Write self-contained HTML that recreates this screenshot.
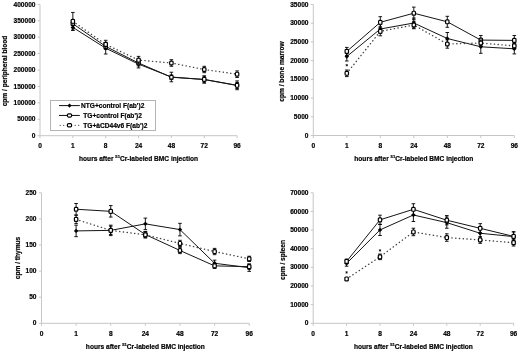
<!DOCTYPE html>
<html><head><meta charset="utf-8"><style>
html,body{margin:0;padding:0;background:#fff;}
svg{display:block;filter:blur(0.3px);}
text{font-family:"Liberation Sans", sans-serif;font-weight:bold;font-size:6.6px;fill:#000;stroke:#000;stroke-width:0.18px;}
</style></head><body>
<svg width="520" height="352" viewBox="0 0 520 352">
<rect width="520" height="352" fill="#fff"/>
<path d="M40 4.4V135.7H237.1" fill="none" stroke="#c6c6c6" stroke-width="1"/>
<path d="M37.5 135.7H40M37.5 119.29H40M37.5 102.88H40M37.5 86.46H40M37.5 70.05H40M37.5 53.64H40M37.5 37.23H40M37.5 20.81H40M37.5 4.4H40M40 135.7V138.2M72.85 135.7V138.2M105.7 135.7V138.2M138.55 135.7V138.2M171.4 135.7V138.2M204.25 135.7V138.2M237.1 135.7V138.2" fill="none" stroke="#c6c6c6" stroke-width="1"/>
<text x="35.5" y="137.8" text-anchor="end">0</text>
<text x="35.5" y="121.39" text-anchor="end">50000</text>
<text x="35.5" y="104.97" text-anchor="end">100000</text>
<text x="35.5" y="88.56" text-anchor="end">150000</text>
<text x="35.5" y="72.15" text-anchor="end">200000</text>
<text x="35.5" y="55.74" text-anchor="end">250000</text>
<text x="35.5" y="39.33" text-anchor="end">300000</text>
<text x="35.5" y="22.91" text-anchor="end">350000</text>
<text x="35.5" y="6.5" text-anchor="end">400000</text>
<text x="40" y="147.5" text-anchor="middle">0</text>
<text x="72.85" y="147.5" text-anchor="middle">1</text>
<text x="105.7" y="147.5" text-anchor="middle">8</text>
<text x="138.55" y="147.5" text-anchor="middle">24</text>
<text x="171.4" y="147.5" text-anchor="middle">48</text>
<text x="204.25" y="147.5" text-anchor="middle">72</text>
<text x="237.1" y="147.5" text-anchor="middle">96</text>
<text x="138.55" y="160.5" text-anchor="middle">hours after <tspan font-size="4.2" dy="-2.6">51</tspan><tspan dy="2.6">Cr-labeled BMC injection</tspan></text>
<text transform="translate(6.9 71) rotate(-90)" text-anchor="middle">cpm / peripheral blood</text>
<path d="M72.85 24.42V30.33M71.05 24.42H74.65M71.05 30.33H74.65M105.7 42.38V54M103.9 42.38H107.5M103.9 54H107.5M138.55 60.33V67.95M136.75 60.33H140.35M136.75 67.95H140.35M171.4 72.22V81.8M169.6 72.22H173.2M169.6 81.8H173.2M204.25 76.09V83.05M202.45 76.09H206.05M202.45 83.05H206.05M237.1 82.49V88.46M235.3 82.49H238.9M235.3 88.46H238.9" fill="none" stroke="#000" stroke-width="0.9"/>
<polyline points="72.85,27.38 105.7,48.19 138.55,64.14 171.4,77.01 204.25,79.57 237.1,85.48" fill="none" stroke="#151515" stroke-width="1.0"/>
<path d="M72.85 25.18L75.05 27.38L72.85 29.58L70.65 27.38Z" fill="#000"/>
<path d="M105.7 45.99L107.9 48.19L105.7 50.39L103.5 48.19Z" fill="#000"/>
<path d="M138.55 61.94L140.75 64.14L138.55 66.34L136.35 64.14Z" fill="#000"/>
<path d="M171.4 74.81L173.6 77.01L171.4 79.21L169.2 77.01Z" fill="#000"/>
<path d="M204.25 77.37L206.45 79.57L204.25 81.77L202.05 79.57Z" fill="#000"/>
<path d="M237.1 83.28L239.3 85.48L237.1 87.68L234.9 85.48Z" fill="#000"/>
<path d="M72.85 19.83V27.71M71.05 19.83H74.65M71.05 27.71H74.65M105.7 43.46V49.37M103.9 43.46H107.5M103.9 49.37H107.5M138.55 60.01V65.98M136.75 60.01H140.35M136.75 65.98H140.35M171.4 74.97V79.57M169.6 74.97H173.2M169.6 79.57H173.2M204.25 75.93V82.88M202.45 75.93H206.05M202.45 82.88H206.05M237.1 80.92V89.71M235.3 80.92H238.9M235.3 89.71H238.9" fill="none" stroke="#000" stroke-width="0.9"/>
<polyline points="72.85,23.77 105.7,46.42 138.55,62.99 171.4,77.27 204.25,79.41 237.1,85.31" fill="none" stroke="#151515" stroke-width="1.0"/>
<rect x="71.15" y="21.82" width="3.4" height="3.9" rx="0.9" fill="#fff" stroke="#000" stroke-width="1.2"/>
<rect x="104" y="44.47" width="3.4" height="3.9" rx="0.9" fill="#fff" stroke="#000" stroke-width="1.2"/>
<rect x="136.85" y="61.04" width="3.4" height="3.9" rx="0.9" fill="#fff" stroke="#000" stroke-width="1.2"/>
<rect x="169.7" y="75.32" width="3.4" height="3.9" rx="0.9" fill="#fff" stroke="#000" stroke-width="1.2"/>
<rect x="202.55" y="77.46" width="3.4" height="3.9" rx="0.9" fill="#fff" stroke="#000" stroke-width="1.2"/>
<rect x="235.4" y="83.36" width="3.4" height="3.9" rx="0.9" fill="#fff" stroke="#000" stroke-width="1.2"/>
<path d="M72.85 12.44V30.17M71.05 12.44H74.65M71.05 30.17H74.65M105.7 40.31V48.52M103.9 40.31H107.5M103.9 48.52H107.5M138.55 56.39V63.81M136.75 56.39H140.35M136.75 63.81H140.35M171.4 59.71V66.28M169.6 59.71H173.2M169.6 66.28H173.2M204.25 66.31V72.68M202.45 66.31H206.05M202.45 72.68H206.05M237.1 70.9V77.47M235.3 70.9H238.9M235.3 77.47H238.9" fill="none" stroke="#000" stroke-width="0.9"/>
<polyline points="72.85,21.3 105.7,44.41 138.55,60.1 171.4,62.99 204.25,69.49 237.1,74.19" fill="none" stroke="#444" stroke-width="1.35" stroke-linecap="round" stroke-dasharray="0.3 3.47"/>
<rect x="71.15" y="19.35" width="3.4" height="3.9" rx="0.9" fill="#fff" stroke="#000" stroke-width="1.2"/>
<rect x="104" y="42.46" width="3.4" height="3.9" rx="0.9" fill="#fff" stroke="#000" stroke-width="1.2"/>
<rect x="136.85" y="58.15" width="3.4" height="3.9" rx="0.9" fill="#fff" stroke="#000" stroke-width="1.2"/>
<rect x="169.7" y="61.04" width="3.4" height="3.9" rx="0.9" fill="#fff" stroke="#000" stroke-width="1.2"/>
<rect x="202.55" y="67.54" width="3.4" height="3.9" rx="0.9" fill="#fff" stroke="#000" stroke-width="1.2"/>
<rect x="235.4" y="72.24" width="3.4" height="3.9" rx="0.9" fill="#fff" stroke="#000" stroke-width="1.2"/>
<rect x="50.5" y="100.5" width="105" height="30" fill="#fff" stroke="#b4b4b4" stroke-width="1"/>
<path d="M59 105.6H79.8" stroke="#000" stroke-width="0.95"/>
<path d="M69.5 103.50L71.6 105.6L69.5 107.70L67.4 105.6Z" fill="#000"/>
<text x="81" y="108.00">NTG+control F(ab')2</text>
<path d="M59 115.45H79.8" stroke="#000" stroke-width="0.95"/>
<rect x="67.40" y="113.85" width="4.2" height="3.2" rx="1.2" fill="#fff" stroke="#000" stroke-width="1.2"/>
<text x="83.3" y="117.85">TG+control F(ab')2</text>
<path d="M60.2 125.3h0.01M63.7 125.3h0.01M75.2 125.3h0.01M78.7 125.3h0.01" stroke="#444" stroke-width="1.35" stroke-linecap="round"/>
<rect x="67.40" y="123.70" width="4.2" height="3.2" rx="1.2" fill="#fff" stroke="#000" stroke-width="1.2"/>
<text x="83.3" y="127.70">TG+àCD44v6 F(ab')2</text>
<path d="M313.3 4.5V135.5H514.3" fill="none" stroke="#c6c6c6" stroke-width="1"/>
<path d="M310.8 135.5H313.3M310.8 116.79H313.3M310.8 98.07H313.3M310.8 79.36H313.3M310.8 60.64H313.3M310.8 41.93H313.3M310.8 23.21H313.3M310.8 4.5H313.3M313.3 135.5V138M346.8 135.5V138M380.3 135.5V138M413.8 135.5V138M447.3 135.5V138M480.8 135.5V138M514.3 135.5V138" fill="none" stroke="#c6c6c6" stroke-width="1"/>
<text x="308.5" y="137.6" text-anchor="end">0</text>
<text x="308.5" y="118.89" text-anchor="end">5000</text>
<text x="308.5" y="100.17" text-anchor="end">10000</text>
<text x="308.5" y="81.46" text-anchor="end">15000</text>
<text x="308.5" y="62.74" text-anchor="end">20000</text>
<text x="308.5" y="44.03" text-anchor="end">25000</text>
<text x="308.5" y="25.31" text-anchor="end">30000</text>
<text x="308.5" y="6.6" text-anchor="end">35000</text>
<text x="313.3" y="147.5" text-anchor="middle">0</text>
<text x="346.8" y="147.5" text-anchor="middle">1</text>
<text x="380.3" y="147.5" text-anchor="middle">8</text>
<text x="413.8" y="147.5" text-anchor="middle">24</text>
<text x="447.3" y="147.5" text-anchor="middle">48</text>
<text x="480.8" y="147.5" text-anchor="middle">72</text>
<text x="514.3" y="147.5" text-anchor="middle">96</text>
<text x="413.8" y="160.5" text-anchor="middle">hours after <tspan font-size="4.2" dy="-2.6">51</tspan><tspan dy="2.6">Cr-labeled BMC injection</tspan></text>
<text transform="translate(284.4 71.5) rotate(-90)" text-anchor="middle">cpm / bone marrow</text>
<path d="M346.8 52.01V60.99M345 52.01H348.6M345 60.99H348.6M380.3 24.51V33.49M378.5 24.51H382.1M378.5 33.49H382.1M413.8 17.99V28.02M412 17.99H415.6M412 28.02H415.6M447.3 32.51V44.49M445.5 32.51H449.1M445.5 44.49H449.1M480.8 40.28V53.31M479 40.28H482.6M479 53.31H482.6M514.3 43.73V53.91M512.5 43.73H516.1M512.5 53.91H516.1" fill="none" stroke="#000" stroke-width="0.9"/>
<polyline points="346.8,56.5 380.3,29 413.8,23 447.3,38.5 480.8,46.79 514.3,48.82" fill="none" stroke="#151515" stroke-width="1.0"/>
<path d="M346.8 54.3L349 56.5L346.8 58.7L344.6 56.5Z" fill="#000"/>
<path d="M380.3 26.8L382.5 29L380.3 31.2L378.1 29Z" fill="#000"/>
<path d="M413.8 20.8L416 23L413.8 25.2L411.6 23Z" fill="#000"/>
<path d="M447.3 36.3L449.5 38.5L447.3 40.7L445.1 38.5Z" fill="#000"/>
<path d="M480.8 44.59L483 46.79L480.8 48.99L478.6 46.79Z" fill="#000"/>
<path d="M514.3 46.62L516.5 48.82L514.3 51.02L512.1 48.82Z" fill="#000"/>
<path d="M346.8 47.41V55.42M345 47.41H348.6M345 55.42H348.6M380.3 16.68V27.91M378.5 16.68H382.1M378.5 27.91H382.1M413.8 7.11V19.31M412 7.11H415.6M412 19.31H415.6M447.3 16.3V27.3M445.5 16.3H449.1M445.5 27.3H449.1M480.8 35.49V44.7M479 35.49H482.6M479 44.7H482.6M514.3 35.49V45.3M512.5 35.49H516.1M512.5 45.3H516.1" fill="none" stroke="#000" stroke-width="0.9"/>
<polyline points="346.8,51.41 380.3,22.3 413.8,13.21 447.3,21.8 480.8,40.09 514.3,40.39" fill="none" stroke="#151515" stroke-width="1.0"/>
<rect x="345.1" y="49.46" width="3.4" height="3.9" rx="0.9" fill="#fff" stroke="#000" stroke-width="1.2"/>
<rect x="378.6" y="20.35" width="3.4" height="3.9" rx="0.9" fill="#fff" stroke="#000" stroke-width="1.2"/>
<rect x="412.1" y="11.26" width="3.4" height="3.9" rx="0.9" fill="#fff" stroke="#000" stroke-width="1.2"/>
<rect x="445.6" y="19.85" width="3.4" height="3.9" rx="0.9" fill="#fff" stroke="#000" stroke-width="1.2"/>
<rect x="479.1" y="38.14" width="3.4" height="3.9" rx="0.9" fill="#fff" stroke="#000" stroke-width="1.2"/>
<rect x="512.6" y="38.44" width="3.4" height="3.9" rx="0.9" fill="#fff" stroke="#000" stroke-width="1.2"/>
<path d="M346.8 70.01V76.59M345 70.01H348.6M345 76.59H348.6M380.3 26.81V35.79M378.5 26.81H382.1M378.5 35.79H382.1M413.8 21.26V28.74M412 21.26H415.6M412 28.74H415.6M447.3 39.81V48.19M445.5 39.81H449.1M445.5 48.19H449.1M480.8 40V45.99M479 40H482.6M479 45.99H482.6M514.3 42.92V48.91M512.5 42.92H516.1M512.5 48.91H516.1" fill="none" stroke="#000" stroke-width="0.9"/>
<polyline points="346.8,73.3 380.3,31.3 413.8,25 447.3,44 480.8,43 514.3,45.91" fill="none" stroke="#444" stroke-width="1.35" stroke-linecap="round" stroke-dasharray="0.3 3.47"/>
<rect x="345.1" y="71.35" width="3.4" height="3.9" rx="0.9" fill="#fff" stroke="#000" stroke-width="1.2"/>
<rect x="378.6" y="29.35" width="3.4" height="3.9" rx="0.9" fill="#fff" stroke="#000" stroke-width="1.2"/>
<rect x="412.1" y="23.05" width="3.4" height="3.9" rx="0.9" fill="#fff" stroke="#000" stroke-width="1.2"/>
<rect x="445.6" y="42.05" width="3.4" height="3.9" rx="0.9" fill="#fff" stroke="#000" stroke-width="1.2"/>
<rect x="479.1" y="41.05" width="3.4" height="3.9" rx="0.9" fill="#fff" stroke="#000" stroke-width="1.2"/>
<rect x="512.6" y="43.96" width="3.4" height="3.9" rx="0.9" fill="#fff" stroke="#000" stroke-width="1.2"/>
<path d="M346.8 64.01V66.41M345.7 64.61L347.9 65.81M345.7 65.81L347.9 64.61" stroke="#000" stroke-width="0.7" fill="none"/>
<path d="M41.5 192.8V323.3H249.22" fill="none" stroke="#c6c6c6" stroke-width="1"/>
<path d="M39 323.3H41.5M39 297.2H41.5M39 271.1H41.5M39 245H41.5M39 218.9H41.5M39 192.8H41.5M41.5 323.3V325.8M76.12 323.3V325.8M110.74 323.3V325.8M145.36 323.3V325.8M179.98 323.3V325.8M214.6 323.3V325.8M249.22 323.3V325.8" fill="none" stroke="#c6c6c6" stroke-width="1"/>
<text x="36.5" y="325.4" text-anchor="end">0</text>
<text x="36.5" y="299.3" text-anchor="end">50</text>
<text x="36.5" y="273.2" text-anchor="end">100</text>
<text x="36.5" y="247.1" text-anchor="end">150</text>
<text x="36.5" y="221" text-anchor="end">200</text>
<text x="36.5" y="194.9" text-anchor="end">250</text>
<text x="41.5" y="335.5" text-anchor="middle">0</text>
<text x="76.12" y="335.5" text-anchor="middle">1</text>
<text x="110.74" y="335.5" text-anchor="middle">8</text>
<text x="145.36" y="335.5" text-anchor="middle">24</text>
<text x="179.98" y="335.5" text-anchor="middle">48</text>
<text x="214.6" y="335.5" text-anchor="middle">72</text>
<text x="249.22" y="335.5" text-anchor="middle">96</text>
<text x="145.36" y="348.5" text-anchor="middle">hours after <tspan font-size="4.2" dy="-2.6">51</tspan><tspan dy="2.6">Cr-labeled BMC injection</tspan></text>
<text transform="translate(19.8 258) rotate(-90)" text-anchor="middle">cpm / thymus</text>
<path d="M76.12 225.16V236.65M74.32 225.16H77.92M74.32 236.65H77.92M110.74 226.21V234.56M108.94 226.21H112.54M108.94 234.56H112.54M145.36 218.12V229.6M143.56 218.12H147.16M143.56 229.6H147.16M179.98 223.34V235.87M178.18 223.34H181.78M178.18 235.87H181.78M214.6 260.14V266.4M212.8 260.14H216.4M212.8 266.4H216.4M249.22 264.05V271.36M247.42 264.05H251.02M247.42 271.36H251.02" fill="none" stroke="#000" stroke-width="0.9"/>
<polyline points="76.12,230.91 110.74,230.38 145.36,223.86 179.98,229.6 214.6,263.27 249.22,267.71" fill="none" stroke="#151515" stroke-width="1.0"/>
<path d="M76.12 228.71L78.32 230.91L76.12 233.11L73.92 230.91Z" fill="#000"/>
<path d="M110.74 228.18L112.94 230.38L110.74 232.58L108.54 230.38Z" fill="#000"/>
<path d="M145.36 221.66L147.56 223.86L145.36 226.06L143.16 223.86Z" fill="#000"/>
<path d="M179.98 227.4L182.18 229.6L179.98 231.8L177.78 229.6Z" fill="#000"/>
<path d="M214.6 261.07L216.8 263.27L214.6 265.47L212.4 263.27Z" fill="#000"/>
<path d="M249.22 265.51L251.42 267.71L249.22 269.91L247.02 267.71Z" fill="#000"/>
<path d="M76.12 203.5V214.99M74.32 203.5H77.92M74.32 214.99H77.92M110.74 205.59V217.07M108.94 205.59H112.54M108.94 217.07H112.54M145.36 231.43V237.69M143.56 231.43H147.16M143.56 237.69H147.16M179.98 247.35V253.61M178.18 247.35H181.78M178.18 253.61H181.78M214.6 263.27V268.49M212.8 263.27H216.4M212.8 268.49H216.4M249.22 264.05V269.27M247.42 264.05H251.02M247.42 269.27H251.02" fill="none" stroke="#000" stroke-width="0.9"/>
<polyline points="76.12,209.24 110.74,211.33 145.36,234.56 179.98,250.48 214.6,265.88 249.22,266.66" fill="none" stroke="#151515" stroke-width="1.0"/>
<rect x="74.42" y="207.29" width="3.4" height="3.9" rx="0.9" fill="#fff" stroke="#000" stroke-width="1.2"/>
<rect x="109.04" y="209.38" width="3.4" height="3.9" rx="0.9" fill="#fff" stroke="#000" stroke-width="1.2"/>
<rect x="143.66" y="232.61" width="3.4" height="3.9" rx="0.9" fill="#fff" stroke="#000" stroke-width="1.2"/>
<rect x="178.28" y="248.53" width="3.4" height="3.9" rx="0.9" fill="#fff" stroke="#000" stroke-width="1.2"/>
<rect x="212.9" y="263.93" width="3.4" height="3.9" rx="0.9" fill="#fff" stroke="#000" stroke-width="1.2"/>
<rect x="247.52" y="264.71" width="3.4" height="3.9" rx="0.9" fill="#fff" stroke="#000" stroke-width="1.2"/>
<path d="M76.12 215.25V223.6M74.32 215.25H77.92M74.32 223.6H77.92M110.74 225.16V235.6M108.94 225.16H112.54M108.94 235.6H112.54M145.36 231.69V237.95M143.56 231.69H147.16M143.56 237.95H147.16M179.98 240.3V246.57M178.18 240.3H181.78M178.18 246.57H181.78M214.6 248.39V254.66M212.8 248.39H216.4M212.8 254.66H216.4M249.22 256.22V261.44M247.42 256.22H251.02M247.42 261.44H251.02" fill="none" stroke="#000" stroke-width="0.9"/>
<polyline points="76.12,219.42 110.74,230.38 145.36,234.82 179.98,243.43 214.6,251.53 249.22,258.83" fill="none" stroke="#444" stroke-width="1.35" stroke-linecap="round" stroke-dasharray="0.3 3.47"/>
<rect x="74.42" y="217.47" width="3.4" height="3.9" rx="0.9" fill="#fff" stroke="#000" stroke-width="1.2"/>
<rect x="109.04" y="228.43" width="3.4" height="3.9" rx="0.9" fill="#fff" stroke="#000" stroke-width="1.2"/>
<rect x="143.66" y="232.87" width="3.4" height="3.9" rx="0.9" fill="#fff" stroke="#000" stroke-width="1.2"/>
<rect x="178.28" y="241.48" width="3.4" height="3.9" rx="0.9" fill="#fff" stroke="#000" stroke-width="1.2"/>
<rect x="212.9" y="249.58" width="3.4" height="3.9" rx="0.9" fill="#fff" stroke="#000" stroke-width="1.2"/>
<rect x="247.52" y="256.88" width="3.4" height="3.9" rx="0.9" fill="#fff" stroke="#000" stroke-width="1.2"/>
<path d="M313.2 192.8V323.3H513.6" fill="none" stroke="#c6c6c6" stroke-width="1"/>
<path d="M310.7 323.3H313.2M310.7 304.66H313.2M310.7 286.01H313.2M310.7 267.37H313.2M310.7 248.73H313.2M310.7 230.09H313.2M310.7 211.44H313.2M310.7 192.8H313.2M313.2 323.3V325.8M346.6 323.3V325.8M380 323.3V325.8M413.4 323.3V325.8M446.8 323.3V325.8M480.2 323.3V325.8M513.6 323.3V325.8" fill="none" stroke="#c6c6c6" stroke-width="1"/>
<text x="308.5" y="325.4" text-anchor="end">0</text>
<text x="308.5" y="306.76" text-anchor="end">10000</text>
<text x="308.5" y="288.11" text-anchor="end">20000</text>
<text x="308.5" y="269.47" text-anchor="end">30000</text>
<text x="308.5" y="250.83" text-anchor="end">40000</text>
<text x="308.5" y="232.19" text-anchor="end">50000</text>
<text x="308.5" y="213.54" text-anchor="end">60000</text>
<text x="308.5" y="194.9" text-anchor="end">70000</text>
<text x="313.2" y="335.5" text-anchor="middle">0</text>
<text x="346.6" y="335.5" text-anchor="middle">1</text>
<text x="380" y="335.5" text-anchor="middle">8</text>
<text x="413.4" y="335.5" text-anchor="middle">24</text>
<text x="446.8" y="335.5" text-anchor="middle">48</text>
<text x="480.2" y="335.5" text-anchor="middle">72</text>
<text x="513.6" y="335.5" text-anchor="middle">96</text>
<text x="413.4" y="348.5" text-anchor="middle">hours after <tspan font-size="4.2" dy="-2.6">51</tspan><tspan dy="2.6">Cr-labeled BMC injection</tspan></text>
<text transform="translate(285 260) rotate(-90)" text-anchor="middle" font-size="7.4">cpm / spleen</text>
<path d="M346.6 260.6V266.2M344.8 260.6H348.4M344.8 266.2H348.4M380 224.31V235.49M378.2 224.31H381.8M378.2 235.49H381.8M413.4 208.46V221.51M411.6 208.46H415.2M411.6 221.51H415.2M446.8 217.04V228.22M445 217.04H448.6M445 228.22H448.6M480.2 228.59V237.92M478.4 228.59H482M478.4 237.92H482M513.6 231.95V241.27M511.8 231.95H515.4M511.8 241.27H515.4" fill="none" stroke="#000" stroke-width="0.9"/>
<polyline points="346.6,263.4 380,229.9 413.4,214.99 446.8,222.63 480.2,233.25 513.6,236.61" fill="none" stroke="#151515" stroke-width="1.0"/>
<path d="M346.6 261.2L348.8 263.4L346.6 265.6L344.4 263.4Z" fill="#000"/>
<path d="M380 227.7L382.2 229.9L380 232.1L377.8 229.9Z" fill="#000"/>
<path d="M413.4 212.79L415.6 214.99L413.4 217.19L411.2 214.99Z" fill="#000"/>
<path d="M446.8 220.43L449 222.63L446.8 224.83L444.6 222.63Z" fill="#000"/>
<path d="M480.2 231.06L482.4 233.25L480.2 235.45L478 233.25Z" fill="#000"/>
<path d="M513.6 234.41L515.8 236.61L513.6 238.81L511.4 236.61Z" fill="#000"/>
<path d="M346.6 259.17V263.64M344.8 259.17H348.4M344.8 263.64H348.4M380 215.17V224.49M378.2 215.17H381.8M378.2 224.49H381.8M413.4 203.71V214.89M411.6 203.71H415.2M411.6 214.89H415.2M446.8 215.54V224.87M445 215.54H448.6M445 224.87H448.6M480.2 223.65V232.98M478.4 223.65H482M478.4 232.98H482M513.6 231.76V241.09M511.8 231.76H515.4M511.8 241.09H515.4" fill="none" stroke="#000" stroke-width="0.9"/>
<polyline points="346.6,261.41 380,219.83 413.4,209.3 446.8,220.21 480.2,228.31 513.6,236.42" fill="none" stroke="#151515" stroke-width="1.0"/>
<rect x="344.9" y="259.46" width="3.4" height="3.9" rx="0.9" fill="#fff" stroke="#000" stroke-width="1.2"/>
<rect x="378.3" y="217.88" width="3.4" height="3.9" rx="0.9" fill="#fff" stroke="#000" stroke-width="1.2"/>
<rect x="411.7" y="207.35" width="3.4" height="3.9" rx="0.9" fill="#fff" stroke="#000" stroke-width="1.2"/>
<rect x="445.1" y="218.26" width="3.4" height="3.9" rx="0.9" fill="#fff" stroke="#000" stroke-width="1.2"/>
<rect x="478.5" y="226.36" width="3.4" height="3.9" rx="0.9" fill="#fff" stroke="#000" stroke-width="1.2"/>
<rect x="511.9" y="234.47" width="3.4" height="3.9" rx="0.9" fill="#fff" stroke="#000" stroke-width="1.2"/>
<path d="M346.6 277.44V280.42M344.8 277.44H348.4M344.8 280.42H348.4M380 254.04V259.63M378.2 254.04H381.8M378.2 259.63H381.8M413.4 228.22V235.68M411.6 228.22H415.2M411.6 235.68H415.2M446.8 233.81V241.27M445 233.81H448.6M445 241.27H448.6M480.2 236.61V243.32M478.4 236.61H482M478.4 243.32H482M513.6 239.31V246.03M511.8 239.31H515.4M511.8 246.03H515.4" fill="none" stroke="#000" stroke-width="0.9"/>
<polyline points="346.6,278.93 380,256.84 413.4,231.95 446.8,237.54 480.2,239.97 513.6,242.67" fill="none" stroke="#444" stroke-width="1.35" stroke-linecap="round" stroke-dasharray="0.3 3.47"/>
<rect x="344.9" y="276.98" width="3.4" height="3.9" rx="0.9" fill="#fff" stroke="#000" stroke-width="1.2"/>
<rect x="378.3" y="254.89" width="3.4" height="3.9" rx="0.9" fill="#fff" stroke="#000" stroke-width="1.2"/>
<rect x="411.7" y="230" width="3.4" height="3.9" rx="0.9" fill="#fff" stroke="#000" stroke-width="1.2"/>
<rect x="445.1" y="235.59" width="3.4" height="3.9" rx="0.9" fill="#fff" stroke="#000" stroke-width="1.2"/>
<rect x="478.5" y="238.02" width="3.4" height="3.9" rx="0.9" fill="#fff" stroke="#000" stroke-width="1.2"/>
<rect x="511.9" y="240.72" width="3.4" height="3.9" rx="0.9" fill="#fff" stroke="#000" stroke-width="1.2"/>
<path d="M346.6 271.21V273.61M345.5 271.81L347.7 273.01M345.5 273.01L347.7 271.81" stroke="#000" stroke-width="0.7" fill="none"/>
<path d="M380 249.21V251.61M378.9 249.81L381.1 251.01M378.9 251.01L381.1 249.81" stroke="#000" stroke-width="0.7" fill="none"/>
</svg>
</body></html>
